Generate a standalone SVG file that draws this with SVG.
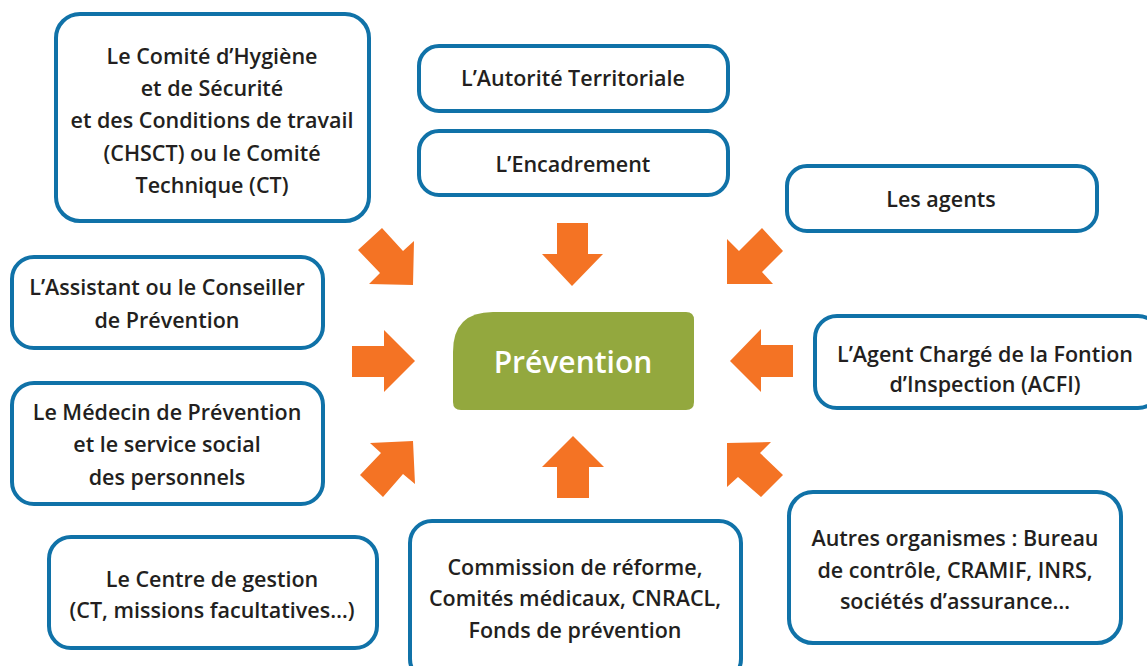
<svg xmlns="http://www.w3.org/2000/svg" width="1147" height="666" viewBox="0 0 1147 666">
<style>
.box{fill:#fff;stroke:#1072a8;stroke-width:4}
.t{font-family:"Open Sans","Noto Sans",sans-serif;font-size:21.5px;font-weight:600;fill:#231f20;text-anchor:middle}
.arr{fill:#f47324}
.main{font-family:"Open Sans","Noto Sans",sans-serif;font-size:30px;font-weight:600;fill:#fff;text-anchor:middle}
</style>
<rect width="1147" height="666" fill="#fff"/>
<g id="n-chsct"><rect class="box" x="56" y="14" width="313" height="207" rx="24"/>
<text class="t" x="212" y="64">Le Comité d’Hygiène</text>
<text class="t" x="212" y="96">et de Sécurité</text>
<text class="t" x="212" y="128">et des Conditions de travail</text>
<text class="t" x="212" y="161">(CHSCT) ou le Comité</text>
<text class="t" x="212" y="193">Technique (CT)</text></g>
<g id="n-autorite"><rect class="box" x="419" y="46" width="309" height="65" rx="20"/>
<text class="t" x="573" y="86">L’Autorité Territoriale</text></g>
<g id="n-encadrement"><rect class="box" x="419" y="131" width="309" height="64" rx="20"/>
<text class="t" x="573" y="172">L’Encadrement</text></g>
<g id="n-agents"><rect class="box" x="787" y="166" width="310" height="65" rx="20"/>
<text class="t" x="941" y="207">Les agents</text></g>
<g id="n-assistant"><rect class="box" x="12" y="257" width="311" height="91" rx="22"/>
<text class="t" x="167" y="295">L’Assistant ou le Conseiller</text>
<text class="t" x="167" y="328">de Prévention</text></g>
<g id="n-prevention"><path d="M493,312 H686 Q694,312 694,320 V402 Q694,410 686,410 H461 Q453,410 453,402 V352 Q453,312 493,312 Z" fill="#93a83e"/>
<text class="main" x="573" y="373">Prévention</text></g>
<g id="n-acfi"><rect class="box" x="815" y="316" width="345" height="92" rx="22"/>
<text class="t" x="985" y="362">L’Agent Chargé de la Fontion</text>
<text class="t" x="985" y="392">d’Inspection (ACFI)</text></g>
<g id="n-medecin"><rect class="box" x="12" y="383" width="311" height="121" rx="22"/>
<text class="t" x="167" y="420">Le Médecin de Prévention</text>
<text class="t" x="167" y="452">et le service social</text>
<text class="t" x="167" y="485">des personnels</text></g>
<g id="n-centre"><rect class="box" x="49" y="537" width="328" height="111" rx="22"/>
<text class="t" x="212" y="587">Le Centre de gestion</text>
<text class="t" x="212" y="618">(CT, missions facultatives…)</text></g>
<g id="n-commission"><rect class="box" x="410" y="521" width="331" height="160" rx="22"/>
<text class="t" x="575" y="575">Commission de réforme,</text>
<text class="t" x="575" y="606">Comités médicaux, CNRACL,</text>
<text class="t" x="575" y="638">Fonds de prévention</text></g>
<g id="n-autres"><rect class="box" x="789" y="492" width="332" height="151" rx="24"/>
<text class="t" x="955" y="546">Autres organismes : Bureau</text>
<text class="t" x="955" y="578">de contrôle, CRAMIF, INRS,</text>
<text class="t" x="955" y="609">sociétés d’assurance…</text></g>
<g id="connectors">
<polygon class="arr" points="358,250 382,228 403,251 414,241 413,285 369,284 380,273"/>
<polygon class="arr" points="557,223 588,223 588,254 603,254 572,286 542,254 557,254"/>
<polygon class="arr" points="727,239 739,251 762,228 783,251 762,272 773,284 727,284"/>
<polygon class="arr" points="352,346 384,346 384,330 415,361 384,392 384,377 352,377"/>
<polygon class="arr" points="793,345 761,345 761,329 730,361 761,392 761,377 793,377"/>
<polygon class="arr" points="370,443 413,441 415,484 403,474 383,497 360,475 381,453"/>
<polygon class="arr" points="557,498 589,498 589,467 604,467 573,436 542,467 557,467"/>
<polygon class="arr" points="727,443 771,442 760,453 783,475 761,497 738,477 727,487"/>
</g>
</svg>
